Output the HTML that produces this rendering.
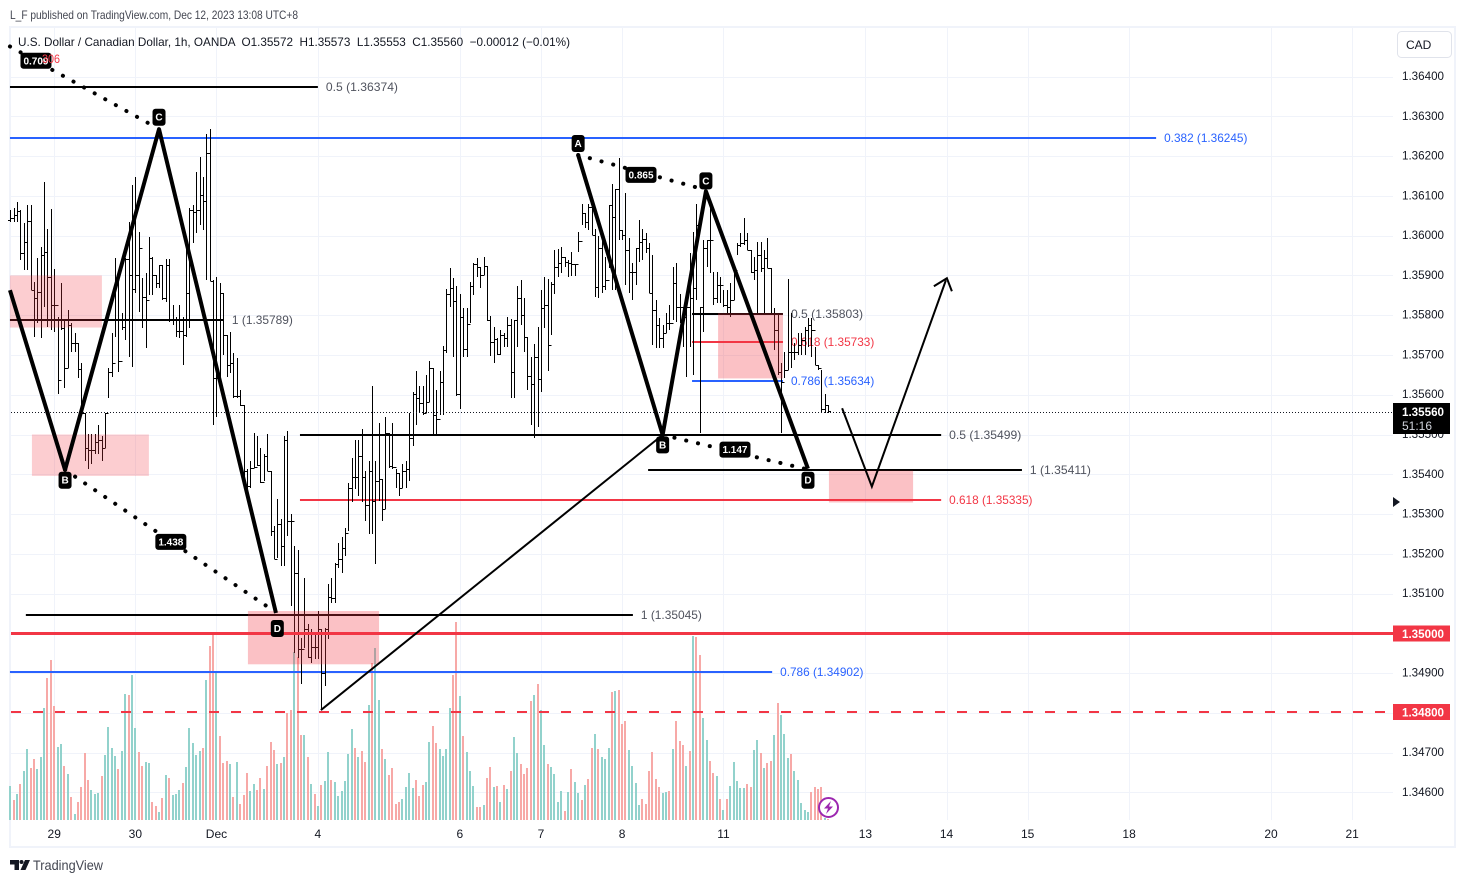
<!DOCTYPE html>
<html lang="en">
<head>
<meta charset="utf-8">
<title>USD/CAD 1h chart</title>
<style>
  html, body { margin: 0; padding: 0; background: #fff; }
  body { width: 1465px; height: 883px; overflow: hidden; }
  svg { display: block; font-family: "Liberation Sans", sans-serif; }
  text { white-space: pre; }
</style>
</head>
<body>
<svg id="chart" width="1465" height="883" viewBox="0 0 1465 883" xmlns="http://www.w3.org/2000/svg">
  <rect x="0" y="0" width="1465" height="883" fill="#ffffff"/>
  <text x="10" y="19" font-size="12" fill="#434651" textLength="288" lengthAdjust="spacingAndGlyphs">L_F published on TradingView.com, Dec 12, 2023 13:08 UTC+8</text>
  <rect x="10" y="27" width="1445" height="820" fill="none" stroke="#f0f3fa" stroke-width="2"/>
  <g id="grid"></g>
  <g id="volumes"></g>
  <g id="levels"></g>
  <g id="bars"></g>
  <g id="zones"></g>
  <g id="drawings"></g>
  <g id="axis"></g>
  <text x="18" y="46" font-size="12" fill="#131722" textLength="552" lengthAdjust="spacingAndGlyphs">U.S. Dollar / Canadian Dollar, 1h, OANDA  O1.35572  H1.35573  L1.35553  C1.35560  −0.00012 (−0.01%)</text>
  <g>
    <rect x="1397.5" y="31.5" width="54" height="26" rx="4" fill="#ffffff" stroke="#e0e3eb"/>
    <text x="1406" y="49" font-size="12" fill="#131722">CAD</text>
  </g>
  <polygon points="1393,497 1400,502 1393,507" fill="#131722"/>
  <g>
    <circle cx="828.5" cy="807.5" r="9.5" fill="#ffffff" stroke="#9c27b0" stroke-width="2"/>
    <polygon points="831,801 824,808.5 828,808.5 826,814 833,806.5 829,806.5" fill="#9c27b0"/>
  </g>
  <g>
    <path d="M10 860h9v10h-4.500v-5.500h-4.500z" fill="#131722"/>
    <circle cx="21.500" cy="862" r="2" fill="#131722"/>
    <polygon points="25,860 30,860 25.500,870 20.500,870" fill="#131722"/>
    <text x="33" y="870" font-size="14" fill="#434651" textLength="70" lengthAdjust="spacingAndGlyphs">TradingView</text>
  </g>
</svg>

<script>
// ----- price data (OHLC bars, 1h) -----
const firstOpen = 1.36040;
const highs = [1.36065,1.36070,1.36085,1.36065,1.36032,1.36077,1.36077,1.35883,1.35944,1.35971,1.36135,1.36017,1.36067,1.35916,1.35795,1.35881,1.35787,1.35813,1.35780,1.35755,1.35729,1.35679,1.35553,1.35502,1.35502,1.35502,1.35523,1.35497,1.35555,1.35666,1.35755,1.35944,1.35896,1.35805,1.35944,1.36034,1.36128,1.36148,1.36009,1.35893,1.35906,1.35997,1.35946,1.35901,1.35926,1.35926,1.35941,1.35941,1.35825,1.35795,1.35825,1.35795,1.35971,1.36070,1.36077,1.36160,1.36198,1.36148,1.36256,1.36269,1.35888,1.35896,1.35881,1.35855,1.35750,1.35757,1.35704,1.35692,1.35613,1.35573,1.35414,1.35434,1.35505,1.35497,1.35465,1.35452,1.35502,1.35409,1.35271,1.35339,1.35288,1.35497,1.35510,1.35301,1.35220,1.35210,1.34988,1.35140,1.35024,1.35011,1.34998,1.35056,1.35011,1.35014,1.35125,1.35140,1.35177,1.35228,1.35241,1.35266,1.35379,1.35442,1.35485,1.35485,1.35515,1.35409,1.35434,1.35621,1.35434,1.35530,1.35389,1.35543,1.35505,1.35528,1.35414,1.35402,1.35427,1.35434,1.35555,1.35606,1.35659,1.35623,1.35623,1.35649,1.35684,1.35666,1.35611,1.35659,1.35722,1.35866,1.35918,1.35893,1.35873,1.35853,1.35818,1.35818,1.35883,1.35931,1.35944,1.35921,1.35946,1.35923,1.35797,1.35770,1.35742,1.35762,1.35755,1.35795,1.35790,1.35787,1.35873,1.35888,1.35843,1.35745,1.35694,1.35727,1.35770,1.35863,1.35896,1.35891,1.35883,1.35964,1.35966,1.35971,1.35946,1.35939,1.35959,1.35929,1.36009,1.36080,1.36057,1.36080,1.36077,1.36017,1.35999,1.35999,1.35946,1.36077,1.36130,1.36118,1.36196,1.36014,1.36108,1.35994,1.35931,1.35969,1.36039,1.36017,1.36007,1.35982,1.35951,1.35838,1.35792,1.35775,1.35805,1.35825,1.35921,1.35931,1.35853,1.35820,1.35820,1.35956,1.36009,1.36080,1.35820,1.35989,1.35989,1.36072,1.35908,1.35908,1.35896,1.35863,1.35863,1.35881,1.35918,1.35982,1.36007,1.36044,1.36007,1.35964,1.35946,1.35984,1.35984,1.35964,1.35994,1.35918,1.35818,1.35800,1.35679,1.35707,1.35891,1.35805,1.35729,1.35755,1.35755,1.35770,1.35792,1.35792,1.35719,1.35674,1.35661,1.35601,1.35573];
const lows = [1.36034,1.36034,1.36034,1.35939,1.35913,1.35913,1.35863,1.35745,1.35780,1.35742,1.35820,1.35770,1.35762,1.35757,1.35603,1.35762,1.35616,1.35666,1.35707,1.35707,1.35641,1.35553,1.35434,1.35414,1.35427,1.35452,1.35452,1.35434,1.35467,1.35591,1.35644,1.35745,1.35656,1.35762,1.35737,1.35694,1.35669,1.35855,1.35808,1.35767,1.35717,1.35850,1.35850,1.35868,1.35868,1.35838,1.35833,1.35782,1.35775,1.35745,1.35742,1.35674,1.35745,1.35767,1.35982,1.36007,1.36027,1.36014,1.35888,1.35886,1.35523,1.35543,1.35611,1.35699,1.35644,1.35654,1.35593,1.35591,1.35571,1.35394,1.35346,1.35366,1.35417,1.35422,1.35379,1.35384,1.35409,1.35245,1.35187,1.35190,1.35170,1.35170,1.35245,1.35069,1.34950,1.34938,1.34872,1.34963,1.34938,1.34925,1.34935,1.34935,1.34809,1.34867,1.34986,1.35077,1.35077,1.35165,1.35152,1.35195,1.35258,1.35329,1.35364,1.35346,1.35329,1.35283,1.35250,1.35250,1.35175,1.35334,1.35283,1.35313,1.35417,1.35414,1.35366,1.35346,1.35366,1.35366,1.35384,1.35470,1.35523,1.35553,1.35548,1.35553,1.35581,1.35497,1.35497,1.35548,1.35548,1.35704,1.35820,1.35694,1.35598,1.35563,1.35694,1.35694,1.35780,1.35850,1.35896,1.35868,1.35901,1.35785,1.35697,1.35681,1.35699,1.35699,1.35719,1.35719,1.35591,1.35593,1.35719,1.35775,1.35707,1.35613,1.35523,1.35490,1.35518,1.35606,1.35767,1.35659,1.35750,1.35853,1.35896,1.35906,1.35921,1.35896,1.35898,1.35898,1.35959,1.36027,1.36019,1.36014,1.36002,1.35845,1.35843,1.35855,1.35863,1.35918,1.35863,1.35863,1.35989,1.35989,1.35876,1.35855,1.35838,1.35876,1.35934,1.35939,1.35956,1.35855,1.35724,1.35717,1.35717,1.35717,1.35755,1.35762,1.35787,1.35782,1.35780,1.35719,1.35644,1.35719,1.35649,1.35838,1.35505,1.35757,1.35921,1.35906,1.35825,1.35830,1.35830,1.35820,1.35800,1.35795,1.35838,1.35951,1.35971,1.35976,1.35964,1.35906,1.35888,1.35805,1.35908,1.35800,1.35918,1.35805,1.35712,1.35649,1.35505,1.35641,1.35661,1.35666,1.35687,1.35699,1.35699,1.35699,1.35719,1.35694,1.35674,1.35661,1.35555,1.35555,1.35555];
const closes = [1.36044,1.36052,1.36062,1.35956,1.35984,1.36037,1.35863,1.35843,1.35858,1.35951,1.35959,1.35896,1.35825,1.35825,1.35636,1.35767,1.35666,1.35775,1.35729,1.35729,1.35664,1.35553,1.35465,1.35460,1.35460,1.35482,1.35487,1.35467,1.35555,1.35656,1.35679,1.35787,1.35684,1.35770,1.35941,1.35901,1.35866,1.35901,1.35969,1.35845,1.35838,1.35944,1.35901,1.35881,1.35926,1.35843,1.35926,1.35787,1.35787,1.35760,1.35760,1.35750,1.35855,1.36065,1.36060,1.36065,1.36102,1.36087,1.36208,1.35886,1.35641,1.35641,1.35855,1.35750,1.35674,1.35681,1.35598,1.35598,1.35573,1.35407,1.35371,1.35417,1.35419,1.35424,1.35381,1.35447,1.35409,1.35258,1.35187,1.35276,1.35220,1.35487,1.35283,1.35283,1.35152,1.34960,1.34960,1.35011,1.34940,1.34965,1.34965,1.35011,1.34900,1.35011,1.35092,1.35089,1.35175,1.35187,1.35215,1.35253,1.35366,1.35392,1.35392,1.35447,1.35392,1.35323,1.35409,1.35334,1.35384,1.35389,1.35313,1.35505,1.35422,1.35419,1.35402,1.35366,1.35409,1.35412,1.35490,1.35603,1.35591,1.35578,1.35555,1.35581,1.35666,1.35550,1.35538,1.35631,1.35712,1.35853,1.35868,1.35835,1.35601,1.35795,1.35714,1.35777,1.35873,1.35929,1.35921,1.35901,1.35923,1.35787,1.35732,1.35739,1.35702,1.35750,1.35742,1.35775,1.35656,1.35787,1.35843,1.35800,1.35745,1.35646,1.35626,1.35694,1.35639,1.35818,1.35825,1.35724,1.35878,1.35921,1.35931,1.35946,1.35934,1.35931,1.35929,1.35929,1.35987,1.36057,1.36034,1.36072,1.36002,1.35871,1.35969,1.35873,1.35888,1.36077,1.36047,1.36118,1.36014,1.36002,1.35964,1.35908,1.35908,1.35969,1.35984,1.35992,1.35969,1.35855,1.35813,1.35775,1.35742,1.35755,1.35780,1.35780,1.35881,1.35820,1.35820,1.35795,1.35820,1.35843,1.35868,1.36027,1.35820,1.35969,1.35989,1.35989,1.35843,1.35876,1.35876,1.35825,1.35820,1.35838,1.35913,1.35976,1.35982,1.35989,1.35964,1.35908,1.35913,1.35951,1.35918,1.35944,1.35918,1.35805,1.35762,1.35656,1.35631,1.35661,1.35707,1.35707,1.35707,1.35724,1.35737,1.35762,1.35775,1.35762,1.35674,1.35666,1.35565,1.35573,1.35560];

// ----- volume data -----
const volumes = [340,200,260,360,490,710,520,610,510,630,1120,1420,1600,1140,730,760,540,460,230,60,180,330,670,400,300,260,270,440,650,930,720,640,510,690,1260,1250,1450,920,680,540,580,570,180,140,80,220,450,420,250,260,300,370,530,920,770,650,690,720,1400,1740,1850,1470,840,570,590,560,230,580,160,250,470,290,360,300,420,310,540,780,700,560,570,630,1070,1100,1680,1630,850,850,630,360,260,140,350,390,680,400,380,240,290,390,660,910,720,630,690,580,1150,1570,1720,1200,710,610,450,520,160,180,210,330,470,320,400,240,350,380,780,940,770,710,640,710,1120,1450,1980,1240,840,680,490,340,130,130,150,420,530,330,340,180,350,310,490,830,670,560,460,520,1190,1250,1360,1100,750,560,530,460,180,290,90,280,510,380,270,200,350,410,720,860,710,630,610,720,1280,1290,1300,960,990,700,540,370,150,210,160,490,680,410,330,270,280,290,710,990,790,750,540,690,1840,1830,1650,1020,800,590,470,440,210,100,210,340,580,390,320,320,360,330,700,800,670,520,570,590,850,1170,1050,860,620,660,490,400,170,100,80,280,330,310,330,20,10];
const volumeDirections = ("grgrggrrgg"+"grrrggrgrg"+"rrrrgggrgg"+"ggrggrggrr"+"ggrrgrgrgg"+"grgggggrgr"+"rgrrrgrgrr"+"rggrrgrrrg"+"rgrrgrrgrg"+"rgrggrgggg"+"ggrgrrgrgg"+"rgrrrrgggg"+"rrrggrrggg"+"grrgrgggrr"+"grrgrg"+"rgrggrrrrg"+"rggrggggrg"+"rggrgrrgrg"+"ggrgrrrggg"+"grrrrrrggr"+"grrrgrgrrg"+"grrgrgrggg"+"ggrrggrgrr"+"grgggrgggg"+"grrrrgr").split("");

// ----- axis labels -----
const priceTicks = [1.364,1.363,1.362,1.361,1.360,1.359,1.358,1.357,1.356,1.355,1.354,1.353,1.352,1.351,1.350,1.349,1.348,1.347,1.346];
const timeTickBars = [13,37,61,91,133,157,181,211,253,277,301,331,373,397];
const timeTickLabels = ["29","30","Dec","4","6","7","8","11","13","14","15","18","20","21"];

// ----- fibonacci levels: value, time span in bars, label, colour key -----
const levelPrices = [1.36374,1.36245,1.35789,1.35803,1.35733,1.35634,1.35499,1.35411,1.35335,1.35045,1.34902];
const levelStartBars = [-0.1,-0.1,-0.1,201.7,201.7,201.7,85.7,188.7,85.7,4.6,-0.1];
const levelEndBars = [91,339,63.2,228.6,228.6,228.6,275.4,299.3,275.4,184.2,225.4];
const levelRatios = ["0.5","0.382","1","0.5","0.618","0.786","0.5","1","0.618","1","0.786"];
const levelKinds = ["black","blue","black","black","red","blue","black","black","red","black","blue"];

// ----- shaded zones -----
const zoneStartBars = [-0.1,6.4,70.3,209.4,242.2];
const zoneEndBars = [27.1,41,109.1,228.6,267.1];
const zoneTopPrices = [1.35900,1.35500,1.35056,1.35805,1.35409];
const zoneBottomPrices = [1.35769,1.35396,1.34922,1.35641,1.35329];

// ----- harmonic patterns -----
const leftPatternBars = [-0.1,16.2,44,78.6];
const leftPatternPrices = [1.35863,1.35411,1.36268,1.35051];
const rightPatternBars = [168,193,205.8,236];
const rightPatternPrices = [1.36203,1.35499,1.36112,1.35414];
const ratioLineStartBars = [-0.1,16.2,168,193];
const ratioLineStartPrices = [1.36476,1.35411,1.36203,1.35499];
const ratioLineEndBars = [43,78,205,235];
const ratioLineEndPrices = [1.36273,1.35056,1.36117,1.35414];
const ratioLabels = ["0.709","1.438","0.865","1.147"];
const ratioBadgeBars = [7.6,47.5,186.6,214.4];
const ratioBadgePrices = [1.36440,1.35230,1.36153,1.35462];
const pointLabels = ["C","B","D","A","C","B","D"];
const pointLabelBars = [44,16.2,79,168,205.8,193,236];
const pointLabelPrices = [1.36298,1.35385,1.35012,1.36232,1.36138,1.35474,1.35385];
const trendBars = [91.9,193];
const trendPrices = [1.34807,1.35499];
const projectionBars = [246.1,254.9,276.8];
const projectionPrices = [1.35566,1.35369,1.35888];

// ----- axis functions -----
function yOf(price) { return 76.66 + (1.364 - price) * 39760; }
function xOf(bar) { return 10.3 + bar * 3.38; }
function volumeTop(v) { return 820 - v * 0.1; }

const NS = "http://www.w3.org/2000/svg";
function make(tag, parentId, props) {
  const el = document.createElementNS(NS, tag);
  for (const k in props) el.setAttribute(k, props[k]);
  document.getElementById(parentId).appendChild(el);
  return el;
}

// grid
priceTicks.forEach(function (p) {
  const y = Math.round(yOf(p)) + 0.5;
  const el = make("line", "grid", { x1: 11, x2: 1393, y1: y, y2: y, stroke: "#f0f3fa", "stroke-width": 1 });
  
  
});
timeTickBars.forEach(function (b) {
  const x = Math.round(xOf(b)) + 0.5;
  const el = make("line", "grid", { x1: x, x2: x, y1: 28, y2: 820, stroke: "#f0f3fa", "stroke-width": 1 });
  
  
});

// volume bars
volumes.forEach(function (v, i) {
  const x = Math.round(xOf(i)) - 1;
  const top = volumeTop(v);
  const el = make("rect", "volumes", { x: x, y: top, width: 2, height: 820 - top, fill: volumeDirections[i] === "g" ? "#92d2cc" : "#f7a9a7" });
  
  
});

// fib levels
const kindLine = { black: "#000000", blue: "#2962ff", red: "#f23645" };
const kindText = { black: "#50535e", blue: "#2962ff", red: "#f23645" };
levelPrices.forEach(function (p, i) {
  const y = Math.round(yOf(p));
  const x1 = xOf(levelStartBars[i]);
  const x2 = xOf(levelEndBars[i]);
  const line = make("line", "levels", { x1: x1, x2: x2, y1: y, y2: y, stroke: kindLine[levelKinds[i]], "stroke-width": 2 });
  
  
  const label = levelRatios[i] + " (" + p.toFixed(5) + ")";
  const t = make("text", "levels", { x: x2 + 8, y: y + 4, "font-size": 12, fill: kindText[levelKinds[i]], textLength: (label.length * 5.55).toFixed(1), lengthAdjust: "spacingAndGlyphs" });
  t.textContent = label;
  
  
});

// OHLC bars
highs.forEach(function (h, i) {
  const x = Math.round(xOf(i)) + 0.5;
  const open = i === 0 ? firstOpen : closes[i - 1];
  const d = "M" + x + " " + Math.round(yOf(h)) + "V" + Math.round(yOf(lows[i])) +
            "M" + (x - 2.5) + " " + (Math.round(yOf(open)) + 0.5) + "H" + x +
            "M" + x + " " + (Math.round(yOf(closes[i])) + 0.5) + "H" + (x + 2.5);
  const el = make("path", "bars", { d: d, fill: "none", stroke: "#000000", "stroke-width": 1 });
  
  
});

// zones
zoneStartBars.forEach(function (b, i) {
  const y1 = yOf(zoneTopPrices[i]);
  const y2 = yOf(zoneBottomPrices[i]);
  const strong = i >= 2;
  const el = make("rect", "zones", { x: xOf(b), y: y1, width: xOf(zoneEndBars[i]) - xOf(b), height: y2 - y1, fill: "#f23645", "fill-opacity": strong ? 0.31 : 0.25 });
  
  
});

// horizontal key prices
const solidY = Math.round(yOf(1.35)) + 0.5;
const solidLine = make("line", "drawings", { x1: 11, x2: 1393, y1: solidY, y2: solidY, stroke: "#f23645", "stroke-width": 3 });


const dashY = Math.round(yOf(1.348)) - 1;
const dashLine = make("line", "drawings", { x1: 11, x2: 1393, y1: dashY, y2: dashY, stroke: "#f23645", "stroke-width": 2, "stroke-dasharray": "10 12" });


const lastY = Math.round(yOf(closes[closes.length - 1])) + 1.5;
const lastLine = make("line", "drawings", { x1: 11, x2: 1393, y1: lastY, y2: lastY, stroke: "#131722", "stroke-width": 1, "stroke-dasharray": "1 2" });



// trend line and projection
const trendLine = make("line", "drawings", { x1: xOf(trendBars[0]), y1: yOf(trendPrices[0]), x2: xOf(trendBars[1]), y2: yOf(trendPrices[1]), stroke: "#000000", "stroke-width": 2 });


const projPts = projectionBars.map(function (b, i) { return xOf(b) + "," + yOf(projectionPrices[i]); }).join(" ");
const projLine = make("polyline", "drawings", { points: projPts, fill: "none", stroke: "#000000", "stroke-width": 2 });


const tipX = xOf(projectionBars[2]);
const tipY = yOf(projectionPrices[2]);
const tipHead = make("polyline", "drawings", { points: (tipX - 12) + "," + (tipY + 6) + " " + (tipX + 1) + "," + (tipY - 2) + " " + (tipX + 6) + "," + (tipY + 11), fill: "none", stroke: "#000000", "stroke-width": 2 });



// harmonic patterns
function patternPoints(bars, prices) {
  return bars.map(function (b, i) { return xOf(b) + "," + yOf(prices[i]); }).join(" ");
}
const leftPattern = make("polyline", "drawings", { points: patternPoints(leftPatternBars, leftPatternPrices), fill: "none", stroke: "#000000", "stroke-width": 4, "stroke-linejoin": "round" });


const rightPattern = make("polyline", "drawings", { points: patternPoints(rightPatternBars, rightPatternPrices), fill: "none", stroke: "#000000", "stroke-width": 4, "stroke-linejoin": "round" });



// dotted ratio lines with badges
ratioLineStartBars.forEach(function (b, i) {
  const x1 = xOf(b);
  const y1 = yOf(ratioLineStartPrices[i]);
  const x2 = xOf(ratioLineEndBars[i]);
  const y2 = yOf(ratioLineEndPrices[i]);
  const line = make("line", "drawings", { x1: x1, y1: y1, x2: x2, y2: y2, stroke: "#000000", "stroke-width": 4, "stroke-linecap": "round", "stroke-dasharray": "0.1 12" });
  
  
  const cx = xOf(ratioBadgeBars[i]);
  const cy = yOf(ratioBadgePrices[i]);
  const box = make("rect", "drawings", { x: cx - 15.5, y: cy - 8, width: 31, height: 16, rx: 3, fill: "#000000" });
  
  
  const t = make("text", "drawings", { x: cx, y: cy + 3.5, "font-size": 10, "font-weight": "bold", fill: "#ffffff", "text-anchor": "middle" });
  t.textContent = ratioLabels[i];
  
  
});
const redOnTop = make("text", "drawings", { x: 42, y: 63, "font-size": 12, fill: "#f23645", textLength: 18, lengthAdjust: "spacingAndGlyphs" });
redOnTop.textContent = "306";



// point badges
pointLabels.forEach(function (label, i) {
  const cx = xOf(pointLabelBars[i]);
  const cy = yOf(pointLabelPrices[i]);
  const box = make("rect", "drawings", { x: cx - 6.5, y: cy - 8.5, width: 13, height: 17, rx: 3, fill: "#000000" });
  
  
  const t = make("text", "drawings", { x: cx, y: cy + 3.5, "font-size": 10, "font-weight": "bold", fill: "#ffffff", "text-anchor": "middle" });
  t.textContent = label;
  
  
});

// axis labels
priceTicks.forEach(function (p) {
  const t = make("text", "axis", { x: 1402, y: yOf(p) + 3.5, "font-size": 12, fill: "#131722", textLength: 42, lengthAdjust: "spacingAndGlyphs" });
  t.textContent = p.toFixed(5);
  
  
});
timeTickBars.forEach(function (b, i) {
  const t = make("text", "axis", { x: xOf(b), y: 838, "font-size": 12, fill: "#131722", "text-anchor": "middle" });
  t.textContent = timeTickLabels[i];
  
  
});

// price tags on the axis
const solidTag = make("rect", "axis", { x: 1393, y: solidY - 8, width: 57, height: 16, fill: "#f23645" });


const solidTagText = make("text", "axis", { x: 1402, y: solidY + 4.5, "font-size": 12, "font-weight": "bold", fill: "#ffffff", textLength: 42, lengthAdjust: "spacingAndGlyphs" });
solidTagText.textContent = "1.35000";


const dashTag = make("rect", "axis", { x: 1393, y: dashY - 8, width: 57, height: 16, fill: "#f23645" });


const dashTagText = make("text", "axis", { x: 1402, y: dashY + 4.5, "font-size": 12, "font-weight": "bold", fill: "#ffffff", textLength: 42, lengthAdjust: "spacingAndGlyphs" });
dashTagText.textContent = "1.34800";


const lastTag = make("rect", "axis", { x: 1393, y: 403, width: 57, height: 31, fill: "#000000" });


const lastTagText = make("text", "axis", { x: 1402, y: 416, "font-size": 12, "font-weight": "bold", fill: "#ffffff", textLength: 42, lengthAdjust: "spacingAndGlyphs" });
lastTagText.textContent = closes[closes.length - 1].toFixed(5);


const countdownText = make("text", "axis", { x: 1402, y: 430, "font-size": 12, fill: "#d1d4dc" });
countdownText.textContent = "51:16";


</script>
</body>
</html>
